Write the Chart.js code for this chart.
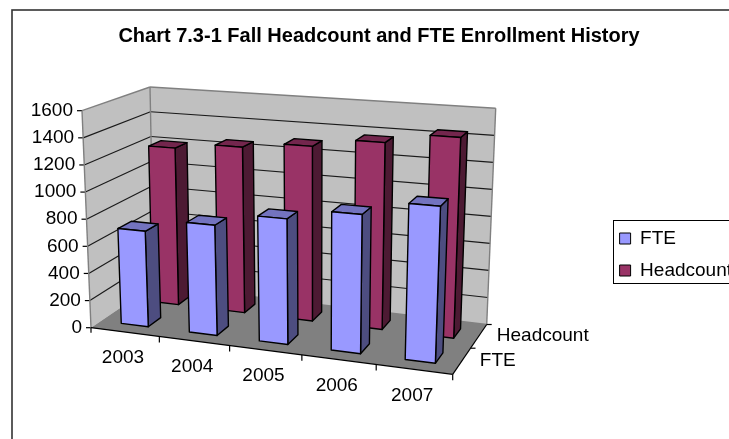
<!DOCTYPE html>
<html><head><meta charset="utf-8">
<style>html,body{margin:0;padding:0;background:#fff;overflow:hidden;width:729px;height:439px}canvas{position:absolute;left:0;top:0}</style>
<script src="https://cdn.jsdelivr.net/npm/chart.js@4/dist/chart.umd.js"></script>
</head><body><canvas id="c" width="758" height="509"></canvas>
<script>
const titleText = 'Chart 7.3-1 Fall Headcount and FTE Enrollment History';
const years = ['2003','2004','2005','2006','2007'];
const fte = [705, 800, 895, 975, 1080];
const headcount = [1210, 1257, 1303, 1370, 1446];
const FONT = '"Liberation Sans", Arial, sans-serif';

// perspective frame of the plot box
const floorQuad = [[91,327.7],[452.7,374.3],[486.7,324.5],[154,285]];
const topQuad = [[82,110.7],[462,137],[495.7,108.3],[150,87]];
function homography(q){
  const [[x0,y0],[x1,y1],[x2,y2],[x3,y3]] = q;
  const dx1=x1-x2, dx2=x3-x2, dy1=y1-y2, dy2=y3-y2, sx=x0-x1+x2-x3, sy=y0-y1+y2-y3;
  const d=dx1*dy2-dx2*dy1;
  const g=(sx*dy2-dx2*sy)/d, h=(dx1*sy-sx*dy1)/d;
  const a=x1-x0+g*x1, b=x3-x0+h*x3, e=y1-y0+g*y1, f=y3-y0+h*y3;
  return (u,w)=>{const z=g*u+h*w+1;return [(a*u+b*w+x0)/z,(e*u+f*w+y0)/z];};
}
const hFloor=homography(floorQuad), hTop=homography(topQuad);
function P(u,w,v){const a=hFloor(u,w),b=hTop(u,w);return [a[0]+(b[0]-a[0])*v,a[1]+(b[1]-a[1])*v];}
function poly(ctx,pts,fill,stroke,lw){
  ctx.beginPath();pts.forEach((p,i)=>i?ctx.lineTo(p[0],p[1]):ctx.moveTo(p[0],p[1]));ctx.closePath();
  if(fill){ctx.fillStyle=fill;ctx.fill();}
  if(stroke){ctx.strokeStyle=stroke;ctx.lineWidth=lw||1;ctx.stroke();}
}
function line(ctx,a,b,c,lw){ctx.beginPath();ctx.moveTo(a[0],a[1]);ctx.lineTo(b[0],b[1]);ctx.strokeStyle=c;ctx.lineWidth=lw||1;ctx.stroke();}
function norm(chart){
  const A=chart.chartArea;
  return {u:x=>(x-A.left)/(A.right-A.left), v:y=>(A.bottom-y)/(A.bottom-A.top)};
}

class Bar3D extends Chart.BarController{
  draw(){
    const chart=this.chart, ctx=chart.ctx, meta=this.getMeta(), ds=this.getDataset(), n=norm(chart);
    const count=chart.data.datasets.length, idx=this.index;
    const w0=(idx+.3)/count, w1=(idx+.7)/count;
    ctx.save();ctx.lineJoin='round';
    meta.data.forEach(el=>{
      const u0=n.u(el.x-el.width/2), u1=n.u(el.x+el.width/2), vt=n.v(el.y), vb=n.v(el.base);
      poly(ctx,[P(u1,w0,vb),P(u1,w1,vb),P(u1,w1,vt),P(u1,w0,vt)],ds.sideColor,'#000',1.4);
      poly(ctx,[P(u0,w0,vt),P(u1,w0,vt),P(u1,w1,vt),P(u0,w1,vt)],ds.topColor,'#000',1.4);
      poly(ctx,[P(u0,w0,vb),P(u1,w0,vb),P(u1,w0,vt),P(u0,w0,vt)],ds.backgroundColor,'#000',1.4);
    });
    ctx.restore();
  }
}
Bar3D.id='bar3d';
Bar3D.defaults=Chart.BarController.defaults;
Chart.register(Bar3D);

const box3d={
  id:'box3d',
  beforeDatasetsDraw(chart){
    const ctx=chart.ctx, ys=chart.scales.y, xs=chart.scales.x, n=norm(chart);
    ctx.save();
    // chart frame
    ctx.strokeStyle='#333';ctx.lineWidth=1.6;ctx.strokeRect(12,10,900,900);
    // walls and floor
    poly(ctx,[P(0,0,0),P(0,1,0),P(0,1,1),P(0,0,1)],'#C0C0C0');
    poly(ctx,[P(0,1,0),P(1,1,0),P(1,1,1),P(0,1,1)],'#C0C0C0');
    poly(ctx,[P(0,0,0),P(1,0,0),P(1,1,0),P(0,1,0)],'#808080');
    // grid lines
    ys.ticks.forEach(t=>{
      const v=n.v(ys.getPixelForValue(t.value));
      if(t.value>0&&t.value<ys.max){
        line(ctx,P(0,0,v),P(0,1,v),'#1a1a1a',1.2);
        line(ctx,P(0,1,v),P(1,1,v),'#1a1a1a',1.2);
      }
      const a=P(0,0,v);
      line(ctx,a,[a[0]-5,a[1]],'#000',1.2);
      ctx.fillStyle='#000';ctx.font='19px '+FONT;ctx.textAlign='right';ctx.textBaseline='middle';
      ctx.fillText(t.label,a[0]-9,a[1]);
    });
    // wall outlines
    [[[0,0,0],[0,0,1]],[[0,0,1],[0,1,1]],[[0,1,1],[1,1,1]],[[1,1,1],[1,1,0]],[[0,1,0],[0,1,1]],[[0,1,0],[1,1,0]]]
      .forEach(s=>line(ctx,P(...s[0]),P(...s[1]),'#808080',1.4));
    // floor edges and ticks
    line(ctx,P(0,0,0),P(1,0,0),'#000',1.2);
    line(ctx,P(1,0,0),P(1,1,0),'#000',1.2);
    years.forEach((y,k)=>{
      const a=P((k+1)/years.length,0,0);
      line(ctx,a,[a[0],a[1]+6],'#000',1.2);
      const c=P(n.u(xs.getPixelForValue(k)),0,0);
      ctx.fillStyle='#000';ctx.font='19px '+FONT;ctx.textAlign='center';ctx.textBaseline='middle';
      ctx.fillText(xs.getLabelForValue(k),c[0]-2,c[1]+26);
    });
    const a0=P(0,0,0);line(ctx,a0,[a0[0],a0[1]+5],'#000',1.2);
    chart.data.datasets.forEach((d,i)=>{
      const count=chart.data.datasets.length;
      const e=P(1,(i+1)/count,0);
      line(ctx,e,[e[0]+5,e[1]],'#000',1.2);
      const c=P(1,(i+.5)/count,0);
      ctx.fillStyle='#000';ctx.font='19px '+FONT;ctx.textAlign='left';ctx.textBaseline='middle';
      ctx.fillText(d.label,c[0]+18,c[1]);
    });
    ctx.restore();
  },
  afterDraw(chart){
    const ctx=chart.ctx;
    ctx.save();ctx.strokeStyle='#000';ctx.lineWidth=1;
    ctx.strokeRect(613.5,220.5,200,63);
    ctx.restore();
  }
};

new Chart(document.getElementById('c'),{
  type:'bar3d',
  data:{labels:years,datasets:[
    {label:'FTE',data:fte,backgroundColor:'#9999FF',topColor:'#7373BF',sideColor:'#4D4D80',borderColor:'#000',borderWidth:1},
    {label:'Headcount',data:headcount,backgroundColor:'#993366',topColor:'#73264D',sideColor:'#4D1A33',borderColor:'#000',borderWidth:1}
  ]},
  options:{
    responsive:false,animation:false,
    layout:{padding:{left:16,right:16,bottom:0}},
    datasets:{bar3d:{grouped:false,barPercentage:.4,categoryPercentage:1}},
    scales:{
      x:{type:'category',offset:true,display:false},
      y:{type:'linear',min:0,max:1600,ticks:{stepSize:200,callback:v=>String(v)},display:false}
    },
    plugins:{
      title:{display:true,text:titleText,color:'#000',font:{family:FONT,size:20,weight:'bold'},padding:{top:24,bottom:7}},
      legend:{position:'right',labels:{boxWidth:11,boxHeight:11,padding:13,color:'#000',font:{family:FONT,size:19}}},
      tooltip:{enabled:false}
    }
  },
  plugins:[box3d]
});
</script></body></html>
